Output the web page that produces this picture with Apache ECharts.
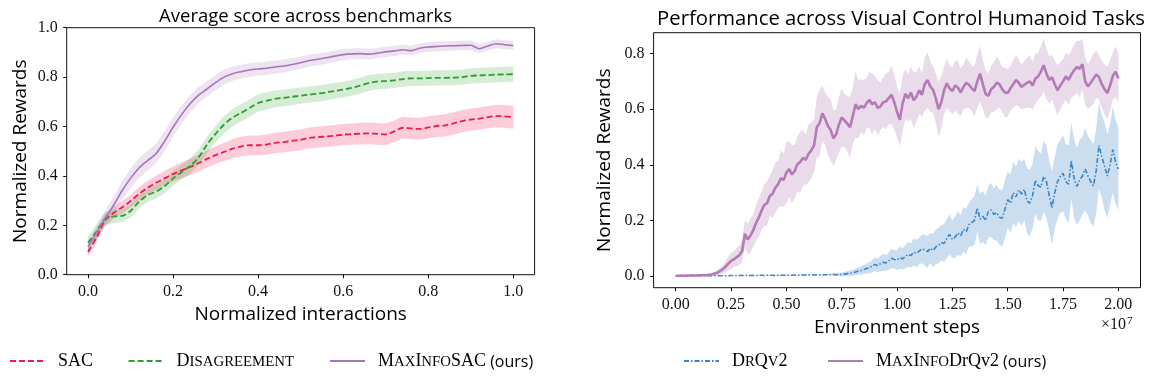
<!DOCTYPE html>
<html>
<head>
<meta charset="utf-8">
<script src="https://cdn.jsdelivr.net/npm/echarts@6.0.0/dist/echarts.min.js"></script>
<style>html,body{margin:0;padding:0;background:#fff;}#c{width:1162px;height:382px;}</style>
</head>
<body>
<div id="c"></div>
<script>
// ---------- Left chart: Average score across benchmarks ----------
var leftX = [0.00,0.02,0.04,0.06,0.08,0.10,0.12,0.14,0.16,0.18,
             0.20,0.22,0.24,0.26,0.28,0.30,0.32,0.34,0.36,0.38,
             0.40,0.42,0.44,0.46,0.48,0.50,0.52,0.54,0.56,0.58,
             0.60,0.62,0.64,0.66,0.68,0.70,0.72,0.74,0.76,0.78,
             0.80,0.82,0.84,0.86,0.88,0.90,0.92,0.94,0.96,0.98,1.00];
var sacMean = [0.092,0.15,0.22,0.25,0.272,0.298,0.327,0.352,0.372,0.39,
               0.407,0.422,0.436,0.452,0.469,0.484,0.497,0.51,0.519,0.524,
               0.524,0.527,0.534,0.537,0.542,0.546,0.554,0.557,0.56,0.563,
               0.567,0.569,0.571,0.572,0.57,0.568,0.58,0.595,0.592,0.59,
               0.596,0.602,0.605,0.613,0.622,0.628,0.632,0.638,0.642,0.641,0.637];
var sacBand = [0.017,0.02,0.022,0.024,0.025,0.026,0.027,0.028,0.029,0.03,
               0.031,0.032,0.033,0.034,0.035,0.036,0.037,0.038,0.039,0.04,
               0.04,0.041,0.041,0.042,0.042,0.042,0.042,0.043,0.043,0.043,
               0.043,0.043,0.044,0.044,0.044,0.044,0.044,0.044,0.044,0.044,
               0.045,0.045,0.045,0.045,0.045,0.045,0.045,0.045,0.046,0.046,0.046];
var disMean = [0.129,0.175,0.225,0.236,0.238,0.258,0.295,0.322,0.336,0.358,
               0.39,0.415,0.44,0.475,0.527,0.57,0.608,0.636,0.655,0.675,
               0.695,0.704,0.712,0.716,0.72,0.725,0.729,0.733,0.738,0.744,
               0.749,0.756,0.766,0.776,0.782,0.784,0.787,0.792,0.795,0.795,
               0.796,0.797,0.797,0.798,0.8,0.805,0.807,0.808,0.81,0.811,0.812];
var disBand = [0.027,0.028,0.028,0.027,0.026,0.026,0.027,0.028,0.028,0.029,
               0.03,0.03,0.031,0.032,0.033,0.034,0.035,0.035,0.035,0.035,
               0.035,0.035,0.034,0.034,0.034,0.033,0.033,0.033,0.033,0.032,
               0.032,0.032,0.032,0.032,0.032,0.031,0.031,0.031,0.031,0.031,
               0.031,0.031,0.031,0.031,0.031,0.031,0.031,0.031,0.031,0.031,0.031];
var misMean = [0.113,0.17,0.228,0.28,0.34,0.39,0.432,0.462,0.49,0.54,
               0.597,0.648,0.692,0.727,0.752,0.778,0.8,0.814,0.822,0.829,
               0.833,0.836,0.841,0.845,0.851,0.858,0.867,0.872,0.878,0.885,
               0.891,0.894,0.895,0.893,0.897,0.902,0.906,0.911,0.907,0.917,
               0.922,0.924,0.926,0.927,0.928,0.929,0.915,0.926,0.935,0.931,0.928];
var misBand = [0.018,0.025,0.03,0.035,0.037,0.04,0.04,0.04,0.04,0.04,
               0.038,0.037,0.035,0.033,0.032,0.03,0.03,0.029,0.028,0.028,
               0.027,0.027,0.026,0.026,0.025,0.025,0.025,0.024,0.024,0.023,
               0.023,0.022,0.022,0.022,0.021,0.021,0.021,0.02,0.02,0.02,
               0.02,0.02,0.019,0.019,0.019,0.019,0.018,0.018,0.018,0.018,0.018];
var leftXTicks = [0, 0.2, 0.4, 0.6, 0.8, 1.0];
var leftYTicks = [0, 0.2, 0.4, 0.6, 0.8, 1.0];

// ---------- Right chart: Visual Control Humanoid Tasks ----------
var rightStep = 125000; // environment steps between logged points
var mdMean = [0.001,0.001,0.002,0.001,0.002,0.002,0.003,0.002,0.003,0.003,0.004,0.003,0.005,
  0.006,0.009,0.012,0.018,0.024,0.034,0.045,0.055,0.06,0.068,0.075,0.09,
  0.152,0.132,0.145,0.165,0.19,0.21,0.235,0.255,0.262,0.288,0.296,0.318,0.33,0.352,0.345,0.372,0.385,0.365,0.378,0.402,0.41,0.425,0.418,0.44,0.452,0.47,
  0.535,0.55,0.585,0.565,0.54,0.525,0.495,0.51,0.545,0.57,0.56,0.548,0.535,0.575,0.618,0.6,0.612,0.605,0.622,0.634,0.618,0.625,0.605,0.61,0.625,0.628,0.64,0.652,0.625,0.59,
  0.562,0.62,0.655,0.64,0.66,0.632,0.645,0.668,0.652,0.69,0.705,0.682,0.67,0.64,0.6,0.625,0.668,0.693,0.675,0.665,0.685,0.678,0.66,0.68,0.695,0.688,0.675,0.665,0.7,0.728,
  0.69,0.655,0.648,0.672,0.68,0.695,0.69,0.672,0.66,0.658,0.675,0.69,0.705,0.695,0.68,0.688,0.695,0.7,0.685,0.71,0.718,0.735,0.758,0.728,0.705,0.715,0.69,0.668,0.685,0.7,
  0.718,0.705,0.725,0.74,0.752,0.745,0.762,0.7,0.682,0.695,0.71,0.725,0.715,0.69,0.672,0.658,0.685,0.72,0.735,0.71];
var mdBand = [0.002,0.002,0.002,0.002,0.002,0.002,0.002,0.002,0.002,0.002,0.002,0.002,0.002,
  0.004,0.006,0.008,0.012,0.016,0.02,0.025,0.03,0.028,0.033,0.035,0.04,
  0.05,0.055,0.06,0.058,0.065,0.07,0.068,0.075,0.08,0.072,0.085,0.09,0.085,0.1,0.095,0.11,0.1,0.105,0.095,0.1,0.11,0.1,0.09,0.105,0.1,0.095,
  0.11,0.12,0.1,0.095,0.105,0.11,0.1,0.09,0.1,0.105,0.095,0.1,0.11,0.1,0.12,0.105,0.095,0.1,0.09,0.1,0.11,0.095,0.1,0.085,0.09,0.1,0.095,0.105,0.1,0.09,
  0.095,0.1,0.09,0.085,0.095,0.1,0.09,0.085,0.08,0.095,0.1,0.09,0.085,0.09,0.1,0.095,0.085,0.09,0.08,0.085,0.09,0.095,0.085,0.08,0.09,0.085,0.08,0.09,0.095,0.1,
  0.09,0.085,0.08,0.085,0.09,0.095,0.085,0.08,0.09,0.085,0.08,0.085,0.09,0.085,0.08,0.085,0.09,0.095,0.085,0.09,0.085,0.09,0.095,0.09,0.085,0.08,0.085,0.09,0.085,0.08,
  0.085,0.09,0.085,0.09,0.095,0.1,0.09,0.085,0.08,0.085,0.09,0.085,0.08,0.085,0.09,0.095,0.09,0.085,0.09,0.088];
var drqMean = [0.001,0.001,0.001,0.001,0.001,0.001,0.001,0.001,0.001,0.001,0.001,0.001,0.001,0.001,0.001,0.001,0.001,0.001,0.001,0.001,
  0.002,0.002,0.002,0.003,0.002,0.002,0.003,0.002,0.003,0.002,0.003,0.003,0.002,0.003,0.003,0.003,0.002,0.003,0.003,0.003,
  0.003,0.004,0.003,0.004,0.004,0.003,0.004,0.004,0.005,0.004,0.004,0.005,0.005,0.004,0.005,0.005,0.005,0.006,0.005,0.006,0.006,
  0.007,0.009,0.01,0.012,0.015,0.018,0.02,0.024,0.027,0.03,0.036,0.042,0.038,0.045,0.05,0.047,0.055,0.064,0.06,0.058,0.066,0.062,0.07,0.078,0.074,0.086,0.082,0.09,0.098,0.094,
  0.088,0.1,0.092,0.105,0.11,0.12,0.118,0.135,0.15,0.132,0.14,0.155,0.145,0.168,0.16,0.185,0.192,0.2,0.245,0.205,0.215,0.2,0.232,0.238,0.222,0.228,0.212,0.208,0.24,0.275,
  0.262,0.3,0.285,0.31,0.295,0.312,0.27,0.262,0.29,0.345,0.325,0.32,0.358,0.34,0.29,0.245,0.3,0.34,0.358,0.37,
  0.34,0.33,0.415,0.35,0.322,0.345,0.36,0.385,0.36,0.34,0.325,0.38,0.47,0.43,0.395,0.36,0.4,0.455,0.41,0.385];
var drqBand = [0.001,0.001,0.001,0.001,0.001,0.001,0.001,0.001,0.001,0.001,0.001,0.001,0.001,0.001,0.001,
  0.001,0.001,0.001,0.001,0.001,0.001,0.001,0.001,0.001,0.001,0.001,0.001,0.001,0.001,0.001,
  0.002,0.002,0.002,0.002,0.002,0.002,0.002,0.002,0.002,0.002,0.002,0.002,0.002,
  0.002,0.002,0.002,0.002,0.002,0.002,0.002,0.002,0.002,0.002,0.002,0.002,0.002,
  0.003,0.004,0.005,0.006,0.007,0.008,0.009,0.01,0.011,0.012,0.014,0.015,0.016,0.018,0.02,
  0.022,0.025,0.024,0.028,0.03,0.028,0.032,0.035,0.033,0.036,0.04,0.038,0.042,0.045,0.043,0.048,0.05,0.047,0.052,0.055,
  0.058,0.055,0.06,0.062,0.065,0.063,0.068,0.07,0.072,0.068,0.075,0.078,0.074,0.08,0.082,0.079,0.085,0.088,0.084,0.09,0.092,0.088,0.094,0.097,0.093,0.1,0.098,0.102,0.105,0.1,
  0.105,0.11,0.108,0.112,0.115,0.11,0.118,0.12,0.116,0.122,0.125,0.12,0.128,0.13,0.126,0.132,0.128,0.135,0.13,0.138,
  0.134,0.14,0.136,0.142,0.138,0.145,0.14,0.148,0.142,0.15,0.146,0.152,0.155,0.148,0.158,0.15,0.145,0.155,0.15,0.148];
var rightXTicks = [0, 2500000, 5000000, 7500000, 10000000, 12500000, 15000000, 17500000, 20000000];
var rightYTicks = [0, 0.2, 0.4, 0.6, 0.8];

// ---------- build ----------
var rightX = drqMean.map(function (_, i) { return i * rightStep; });

function pairs(xs, ys) { return ys.map(function (y, i) { return [xs[i], y]; }); }

function bandSeries(id, xs, mean, hw, color, gi) {
  var n = Math.min(xs.length, mean.length, hw.length);
  var data = [];
  for (var i = 0; i < n; i++) data.push([xs[i], mean[i] - hw[i], mean[i] + hw[i]]);
  return {
    name: id, type: 'custom', xAxisIndex: gi, yAxisIndex: gi, data: data, silent: true, z: 1,
    encode: { x: 0, y: [1, 2] },
    renderItem: function (params, api) {
      if (params.dataIndex !== 0) return null;
      var pts = [], k;
      for (k = 0; k < data.length; k++) pts.push(api.coord([data[k][0], data[k][2]]));
      for (k = data.length - 1; k >= 0; k--) pts.push(api.coord([data[k][0], data[k][1]]));
      return { type: 'polygon', shape: { points: pts }, style: { fill: color } };
    }
  };
}

function lineSeries(name, xs, ys, color, width, dash, gi, smooth, z) {
  return { name: name, type: 'line', xAxisIndex: gi, yAxisIndex: gi, data: pairs(xs, ys),
           symbol: 'none', smooth: smooth, color: color, z: z,
           lineStyle: { color: color, width: width, type: dash } };
}

var RED = '#f0194c', GREEN = '#2ca02c', PURPLE = '#a874b9', RPURPLE = '#b37ab5', BLUE = '#3a84c7';

var series = [
  bandSeries('sacBand', leftX, sacMean, sacBand, 'rgba(250,110,150,0.35)', 0),
  lineSeries('SAC', leftX, sacMean, RED, 1.8, [6, 3], 0, 0.3, 3),
  bandSeries('disBand', leftX, disMean, disBand, 'rgba(44,160,44,0.2)', 0),
  lineSeries('Disagreement', leftX, disMean, GREEN, 1.8, [6, 3], 0, 0.3, 3),
  bandSeries('misBand', leftX, misMean, misBand, 'rgba(168,116,185,0.2)', 0),
  lineSeries('MaxInfoSAC (ours)', leftX, misMean, PURPLE, 1.6, 'solid', 0, 0.3, 3),
  bandSeries('drqBand', rightX, drqMean, drqBand, 'rgba(58,132,199,0.27)', 1),
  lineSeries('DrQv2', rightX, drqMean, BLUE, 1.6, [5, 2, 1.5, 2], 1, false, 3),
  bandSeries('mdBand', rightX, mdMean, mdBand, 'rgba(179,122,181,0.27)', 1),
  lineSeries('MaxInfoDrQv2 (ours)', rightX, mdMean, RPURPLE, 2.6, 'solid', 1, false, 4)
];

var SERIF = 'Liberation Serif';
var SANS = 'Open Sans';

var legendRich = {
  b: { fontFamily: SERIF, fontSize: 18, color: '#000', lineHeight: 18, verticalAlign: 'bottom' },
  s: { fontFamily: SERIF, fontSize: 14.8, color: '#000', lineHeight: 15, verticalAlign: 'bottom' },
  o: { fontFamily: SANS, fontSize: 16, color: '#000', lineHeight: 16, verticalAlign: 'bottom' }
};
var legendLabels = {
  'SAC': '{b|SAC}',
  'Disagreement': '{b|D}{s|ISAGREEMENT}',
  'MaxInfoSAC (ours)': '{b|M}{s|AX}{b|I}{s|NFO}{b|SAC}{o| (ours)}',
  'DrQv2': '{b|D}{s|R}{b|Q}{s|V}{b|2}',
  'MaxInfoDrQv2 (ours)': '{b|M}{s|AX}{b|I}{s|NFO}{b|DrQv2}{o| (ours)}'
};
function legendAt(name, left) {
  return { data: [name], left: left, top: 352, itemWidth: 35, itemHeight: 14, padding: 0,
           itemStyle: { opacity: 0 },
           formatter: function (n) { return legendLabels[n]; },
           textStyle: { fontFamily: SERIF, fontSize: 18, color: '#000', padding: [0, 0, 0, 8], rich: legendRich } };
}

var tickRich = { t: { fontFamily: SERIF, fontSize: 16, color: '#111' } };

function xAxisCfg(gi, min, max, ticks, fmt, name, gap) {
  return { type: 'value', gridIndex: gi, min: min, max: max,
           name: name, nameLocation: 'middle', nameGap: gap,
           nameTextStyle: { fontFamily: SANS, fontSize: 19, color: '#000' },
           axisLine: { show: false, onZero: false },
           axisTick: { show: true, length: 3.5, inside: false, customValues: ticks, lineStyle: { color: '#000', width: 1 } },
           axisLabel: { customValues: ticks, formatter: function (v) { return '{t|' + fmt(v) + '}'; }, rich: tickRich,
                        margin: 9, fontFamily: SERIF, fontSize: 16, color: '#111' },
           splitLine: { show: false } };
}
function yAxisCfg(gi, min, max, ticks, name, gap) {
  return { type: 'value', gridIndex: gi, min: min, max: max,
           name: name, nameLocation: 'middle', nameGap: gap, nameRotate: 90,
           nameTextStyle: { fontFamily: SANS, fontSize: 19, color: '#000' },
           axisLine: { show: false, onZero: false },
           axisTick: { show: true, length: 3.5, inside: false, customValues: ticks, lineStyle: { color: '#000', width: 1 } },
           axisLabel: { customValues: ticks, formatter: function (v) { return '{t|' + v.toFixed(1) + '}'; }, rich: tickRich,
                        margin: 9, fontFamily: SERIF, fontSize: 16, color: '#111' },
           splitLine: { show: false } };
}

var option = {
  animation: false,
  backgroundColor: '#fff',
  textStyle: { fontFamily: SERIF },
  title: [
    { text: 'Average score across benchmarks', left: 300.6, top: 2, textAlign: 'center',
      textStyle: { fontFamily: SANS, fontSize: 18.5, fontWeight: 'normal', color: '#000' } },
    { text: 'Performance across Visual Control Humanoid Tasks', left: 896, top: 4, textAlign: 'center',
      textStyle: { fontFamily: SANS, fontSize: 20.3, fontWeight: 'normal', color: '#000' } }
  ],
  grid: [
    { left: 66.7, top: 27.7, width: 467.9, height: 247, show: true, borderColor: '#111', borderWidth: 1, backgroundColor: 'transparent', outerBoundsMode: 'none', containLabel: false },
    { left: 653.6, top: 32.7, width: 486.9, height: 255, show: true, borderColor: '#111', borderWidth: 1, backgroundColor: 'transparent', outerBoundsMode: 'none', containLabel: false }
  ],
  xAxis: [
    xAxisCfg(0, -0.05, 1.05, leftXTicks, function (v) { return v.toFixed(1); }, 'Normalized interactions', 28),
    xAxisCfg(1, -1000000, 21000000, rightXTicks, function (v) { return (v / 1e7).toFixed(2); }, 'Environment steps', 30.5)
  ],
  yAxis: [
    yAxisCfg(0, 0, 1, leftYTicks, 'Normalized Rewards', 37),
    yAxisCfg(1, -0.0417, 0.875, rightYTicks, 'Normalized Rewards', 39.5)
  ],
  legend: [
    legendAt('SAC', 9),
    legendAt('Disagreement', 127.6),
    legendAt('MaxInfoSAC (ours)', 329),
    legendAt('DrQv2', 683),
    legendAt('MaxInfoDrQv2 (ours)', 827)
  ],
  graphic: [
    { type: 'text', left: 1101, top: 316,
      style: { text: '×10{sup|7}', fontFamily: SERIF, fontSize: 16, fill: '#111',
               rich: { sup: { fontFamily: SERIF, fontSize: 11, fill: '#111', verticalAlign: 'top', padding: [0, 0, 6, 1] } } } }
  ],
  series: series
};

var chart = echarts.init(document.getElementById('c'), null, { renderer: 'canvas' });
chart.setOption(option);
</script>
</body>
</html>
